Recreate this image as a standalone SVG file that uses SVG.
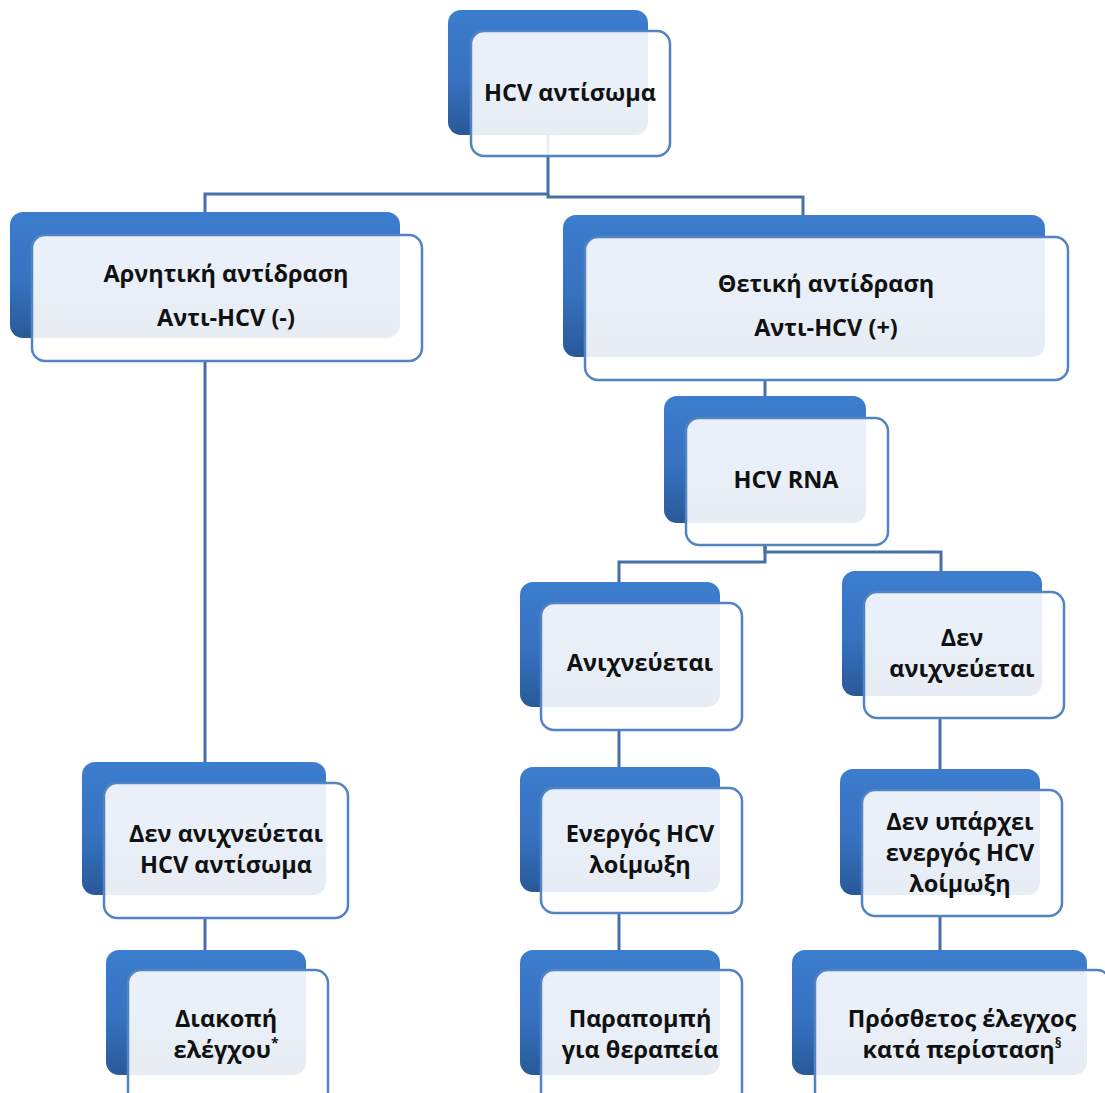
<svg xmlns="http://www.w3.org/2000/svg" width="1105" height="1093" viewBox="0 0 1105 1093">
<defs>
<linearGradient id="bg" x1="0" y1="0" x2="0" y2="1">
<stop offset="0" stop-color="#3c7dcd"/>
<stop offset="0.55" stop-color="#3672c0"/>
<stop offset="1" stop-color="#2a5898"/>
</linearGradient>
<style>
.back{fill:url(#bg)}
.front{fill:#ffffff;fill-opacity:0.89;stroke:#5283c2;stroke-width:2.5}
.conn{fill:none;stroke:#4470a8;stroke-width:3}
text{font-family:"Open Sans","Noto Sans","DejaVu Sans",sans-serif;font-weight:bold;font-size:23.5px;fill:#111111;text-anchor:middle}
.sup{font-size:14px}
</style>
</defs>
<rect width="1105" height="1093" fill="#ffffff"/>
<g id="connectors">
<path class="conn" d="M548,135 V194 H205 V212"/>
<path class="conn" d="M548,194 V197 H803 V215"/>
<path class="conn" d="M205,361 V762"/>
<path class="conn" d="M765,380 V396"/>
<path class="conn" d="M765,545 V562 H619 V582"/>
<path class="conn" d="M765,545 V552 H941 V571"/>
<path class="conn" d="M619,730 V767"/>
<path class="conn" d="M940,718 V769"/>
<path class="conn" d="M205,918 V950"/>
<path class="conn" d="M619,913 V950"/>
<path class="conn" d="M940,916 V950"/>
</g>
<g id="n1">
<rect class="back" x="448" y="10" width="200" height="125" rx="13"/>
<rect class="front" x="471" y="31" width="199" height="125" rx="13"/>
<text x="570" y="101">HCV αντίσωμα</text>
</g>
<g id="n2">
<rect class="back" x="10" y="212" width="390" height="126" rx="13"/>
<rect class="front" x="32" y="235" width="390" height="126" rx="13"/>
<text x="226" y="282">Αρνητική αντίδραση</text>
<text x="226" y="326">Αντι-HCV (-)</text>
</g>
<g id="n3">
<rect class="back" x="563" y="215" width="482" height="142" rx="13"/>
<rect class="front" x="585" y="237" width="483" height="143" rx="13"/>
<text x="826" y="292">Θετική αντίδραση</text>
<text x="826" y="336">Αντι-HCV (+)</text>
</g>
<g id="n4">
<rect class="back" x="664" y="396" width="202" height="127" rx="13"/>
<rect class="front" x="686" y="418" width="202" height="127" rx="13"/>
<text x="786" y="488">HCV RNA</text>
</g>
<g id="n5">
<rect class="back" x="520" y="582" width="200" height="125" rx="13"/>
<rect class="front" x="541" y="603" width="201" height="127" rx="13"/>
<text x="640" y="671">Ανιχνεύεται</text>
</g>
<g id="n6">
<rect class="back" x="842" y="571" width="200" height="125" rx="13"/>
<rect class="front" x="864" y="592" width="200" height="126" rx="13"/>
<text x="962" y="646">Δεν</text>
<text x="962" y="677">ανιχνεύεται</text>
</g>
<g id="n7">
<rect class="back" x="82" y="762" width="244" height="133" rx="13"/>
<rect class="front" x="104" y="783" width="244" height="135" rx="13"/>
<text x="226" y="842">Δεν ανιχνεύεται</text>
<text x="226" y="873">HCV αντίσωμα</text>
</g>
<g id="n8">
<rect class="back" x="520" y="767" width="200" height="125" rx="13"/>
<rect class="front" x="541" y="788" width="201" height="125" rx="13"/>
<text x="640" y="842">Ενεργός HCV</text>
<text x="640" y="873">λοίμωξη</text>
</g>
<g id="n9">
<rect class="back" x="840" y="769" width="200" height="126" rx="13"/>
<rect class="front" x="862" y="790" width="200" height="126" rx="13"/>
<text x="960" y="830">Δεν υπάρχει</text>
<text x="960" y="861">ενεργός HCV</text>
<text x="960" y="892">λοίμωξη</text>
</g>
<g id="n10">
<rect class="back" x="106" y="950" width="200" height="125" rx="13"/>
<rect class="front" x="128" y="970" width="200" height="135" rx="13"/>
<text x="226" y="1027">Διακοπή</text>
<text x="226" y="1058">ελέγχου<tspan class="sup" dy="-10">*</tspan></text>
</g>
<g id="n11">
<rect class="back" x="520" y="950" width="200" height="125" rx="13"/>
<rect class="front" x="541" y="970" width="201" height="135" rx="13"/>
<text x="640" y="1027">Παραπομπή</text>
<text x="640" y="1058">για θεραπεία</text>
</g>
<g id="n12">
<rect class="back" x="792" y="950" width="295" height="125" rx="13"/>
<rect class="front" x="815" y="970" width="295" height="135" rx="13"/>
<text x="962" y="1027">Πρόσθετος έλεγχος</text>
<text x="962" y="1058">κατά περίσταση<tspan class="sup" dy="-10">§</tspan></text>
</g>
</svg>
